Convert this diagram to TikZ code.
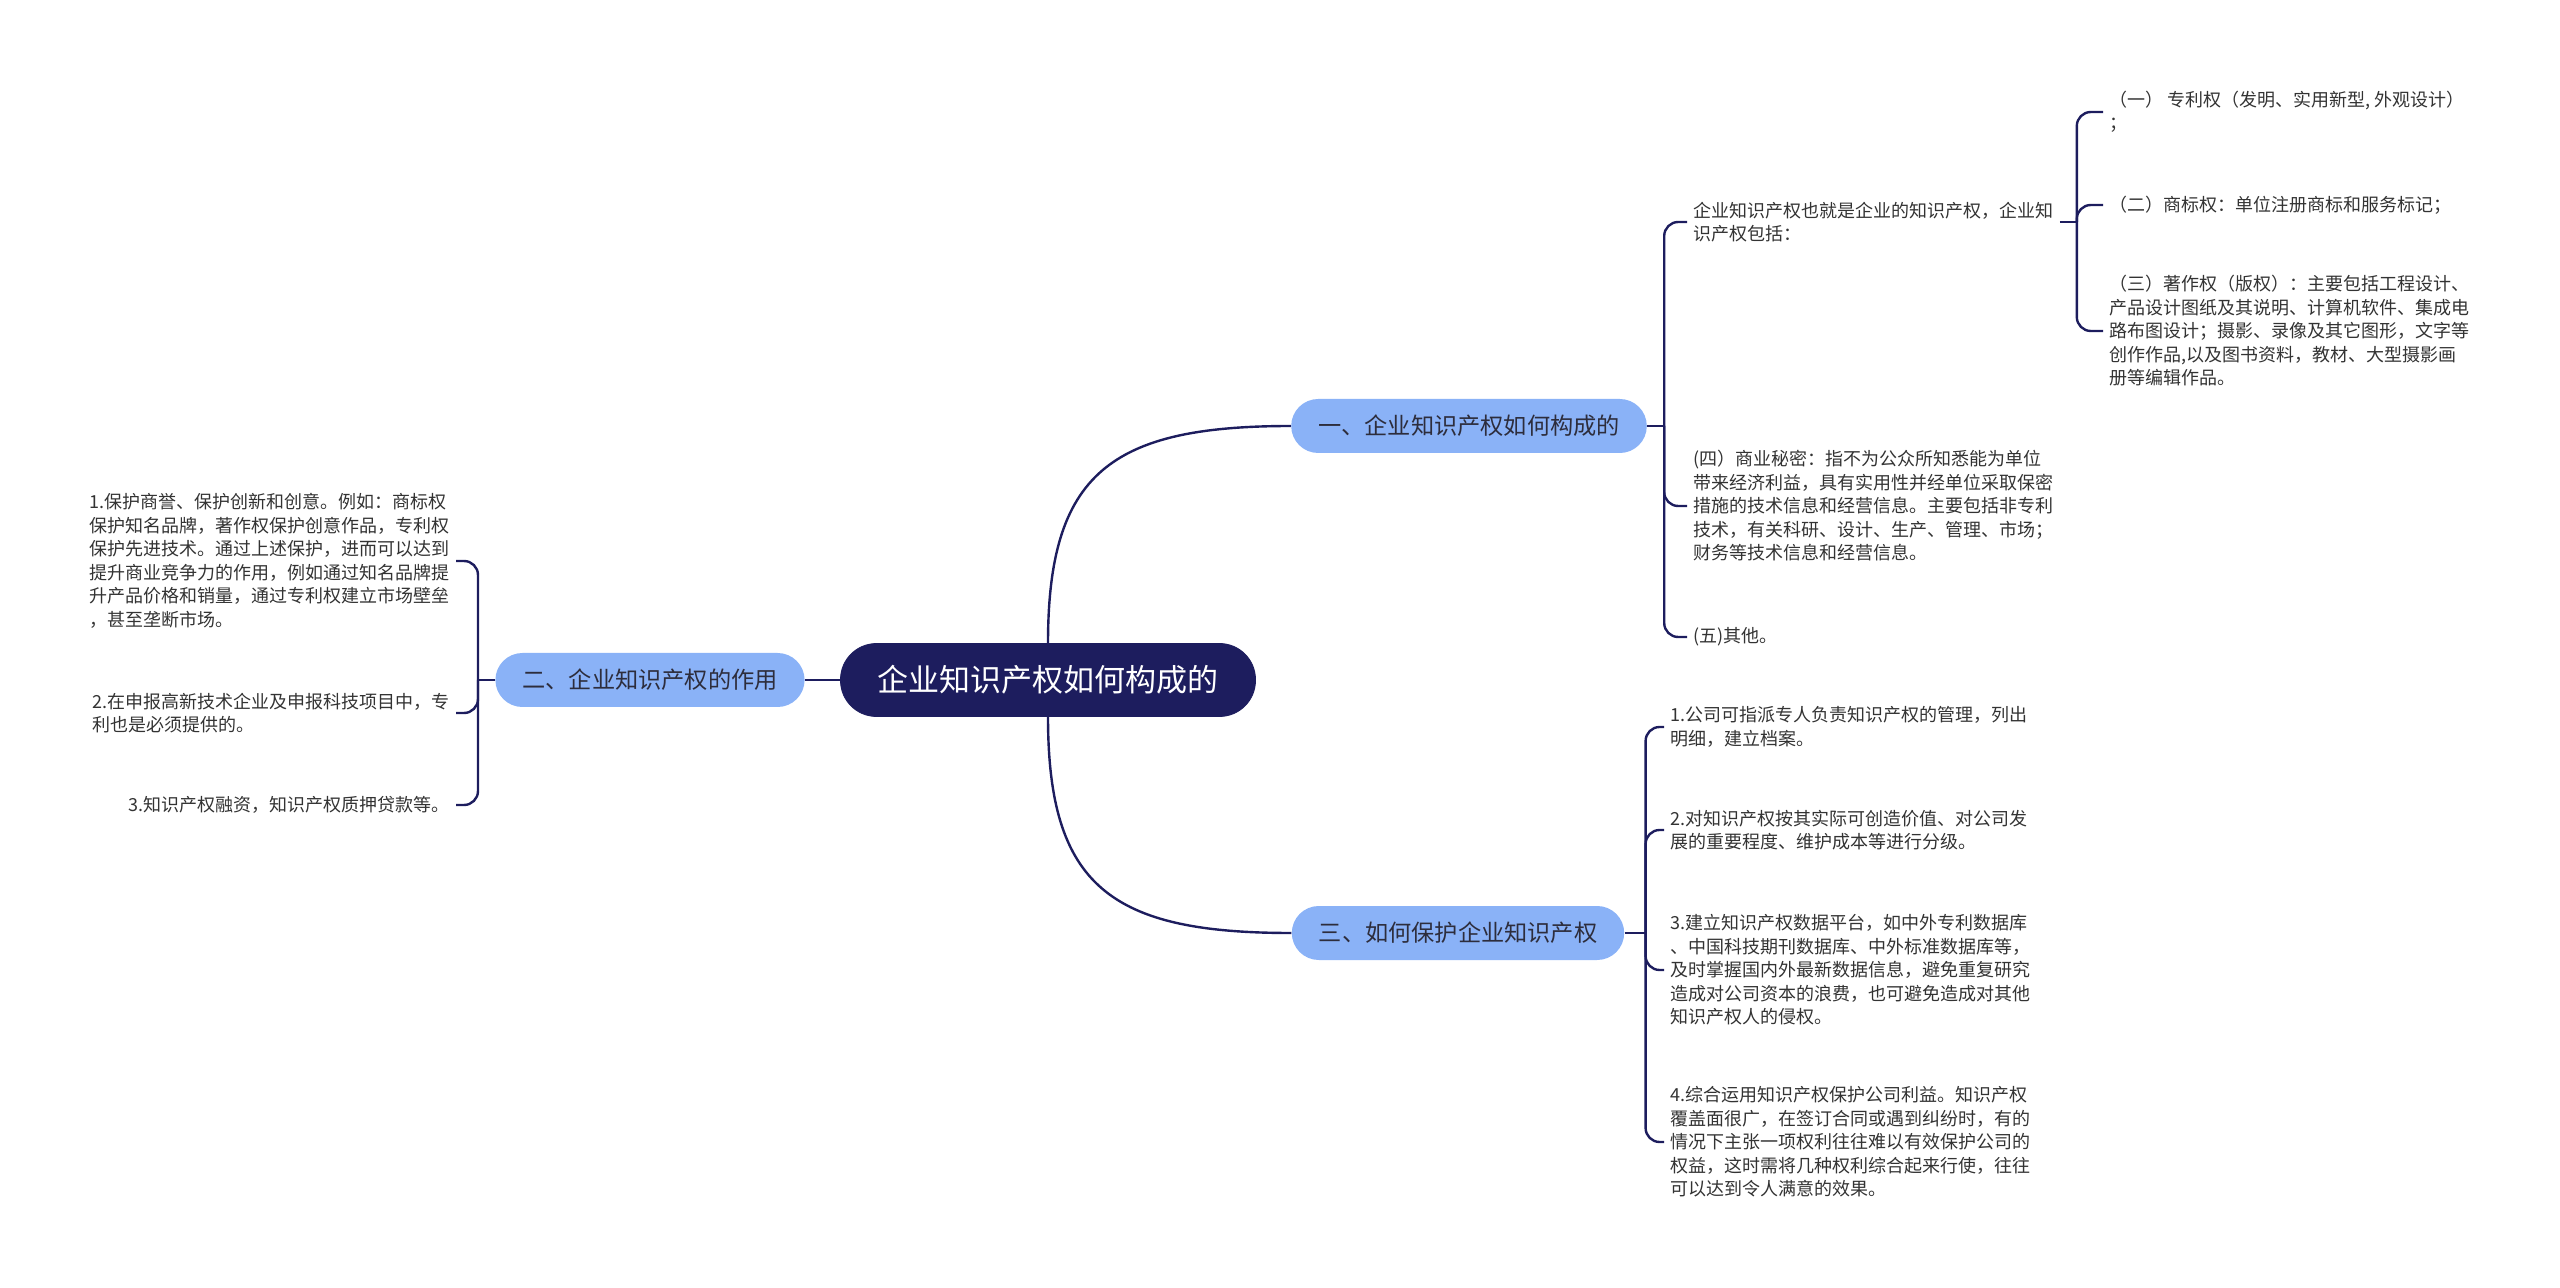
\documentclass[tikz,border=0pt]{standalone}
\usepackage{fontspec}
\setmainfont{Noto Sans CJK SC}
\usetikzlibrary{positioning}
\definecolor{deep}{RGB}{29,29,94}
\definecolor{sky}{RGB}{138,178,247}
\definecolor{ink}{RGB}{45,45,60}
\definecolor{graytext}{RGB}{51,51,51}
\tikzset{
  hub/.style={draw=deep,fill=deep,text=white,rounded corners=18pt,minimum height=36.5pt,inner xsep=18.5pt,font=\fontsize{15.5pt}{18pt}\selectfont},
  topic/.style={fill=sky,text=ink,rounded corners=13.5pt,minimum height=27pt,inner xsep=13.5pt,font=\fontsize{11.6pt}{14pt}\selectfont},
  note/.style={text=graytext,align=left,inner xsep=3pt,inner ysep=2pt,font=\fontsize{9pt}{11.75pt}\selectfont},
  wire/.style={draw=deep,line width=1.2pt},
  brace/.style={wire,rounded corners=7pt}
}
\begin{document}
\begin{tikzpicture}[x=0.5pt,y=-0.5pt]
  \useasboundingbox (0,0) rectangle (2560,1288);
  \node[hub] (main) at (1048,680) {企业知识产权如何构成的};
  \node[topic] (b1) at (1469,426) {一、企业知识产权如何构成的};
  \node[topic] (b2) at (650,680) {二、企业知识产权的作用};
  \node[topic] (b3) at (1458,933) {三、如何保护企业知识产权};
  \draw[wire] (main.north) .. controls +(0,-170) and +(-180,0) .. (b1.west);
  \draw[wire] (main.south) .. controls +(0,170) and +(-180,0) .. (b3.west);
  \draw[wire] (main.west) -- (b2.east);

  % first branch
  \node[note,anchor=west] (b1a) at (1687,222) {企业知识产权也就是企业的知识产权，企业知\\识产权包括：};
  \node[note,anchor=west] (b1d) at (1687,506) {(四）商业秘密：指不为公众所知悉能为单位\\带来经济利益，具有实用性并经单位采取保密\\措施的技术信息和经营信息。主要包括非专利\\技术，有关科研、设计、生产、管理、市场；\\财务等技术信息和经营信息。};
  \node[note,anchor=west] (b1e) at (1687,637) {(五)其他。};
  \node[note,anchor=west] (b1a1) at (2103,112) {（一） 专利权（发明、实用新型, 外观设计）\\；};
  \node[note,anchor=west] (b1a2) at (2103,205) {（二）商标权：单位注册商标和服务标记；};
  \node[note,anchor=west] (b1a3) at (2103,331) {（三）著作权（版权）：主要包括工程设计、\\产品设计图纸及其说明、计算机软件、集成电\\路布图设计；摄影、录像及其它图形，文字等\\创作作品,以及图书资料，教材、大型摄影画\\册等编辑作品。};
  \draw[wire] (b1.east) -- ++(17,0) coordinate (j1);
  \foreach \c in {b1a,b1d,b1e} \draw[brace] (j1) |- (\c.west);
  \draw[wire] (b1a.east) -- ++(17,0) coordinate (j11);
  \foreach \c in {b1a1,b1a2,b1a3} \draw[brace] (j11) |- (\c.west);

  % second branch
  \node[note,anchor=east] (b2a) at (456,561) {1.保护商誉、保护创新和创意。例如：商标权\\保护知名品牌，著作权保护创意作品，专利权\\保护先进技术。通过上述保护，进而可以达到\\提升商业竞争力的作用，例如通过知名品牌提\\升产品价格和销量，通过专利权建立市场壁垒\\，甚至垄断市场。};
  \node[note,anchor=east] (b2b) at (456,713) {2.在申报高新技术企业及申报科技项目中，专\\利也是必须提供的。};
  \node[note,anchor=east] (b2c) at (456,805) {3.知识产权融资，知识产权质押贷款等。};
  \draw[wire] (b2.west) -- ++(-17,0) coordinate (j2);
  \foreach \c in {b2a,b2b,b2c} \draw[brace] (j2) |- (\c.east);

  % third branch
  \node[note,anchor=west] (b3a) at (1664,727) {1.公司可指派专人负责知识产权的管理，列出\\明细，建立档案。};
  \node[note,anchor=west] (b3b) at (1664,830) {2.对知识产权按其实际可创造价值、对公司发\\展的重要程度、维护成本等进行分级。};
  \node[note,anchor=west] (b3c) at (1664,970) {3.建立知识产权数据平台，如中外专利数据库\\、中国科技期刊数据库、中外标准数据库等，\\及时掌握国内外最新数据信息，避免重复研究\\造成对公司资本的浪费，也可避免造成对其他\\知识产权人的侵权。};
  \node[note,anchor=west] (b3d) at (1664,1142) {4.综合运用知识产权保护公司利益。知识产权\\覆盖面很广，在签订合同或遇到纠纷时，有的\\情况下主张一项权利往往难以有效保护公司的\\权益，这时需将几种权利综合起来行使，往往\\可以达到令人满意的效果。};
  \draw[wire] (b3.east) -- ++(21,0) coordinate (j3);
  \foreach \c in {b3a,b3b,b3c,b3d} \draw[brace] (j3) |- (\c.west);
\end{tikzpicture}
\end{document}
